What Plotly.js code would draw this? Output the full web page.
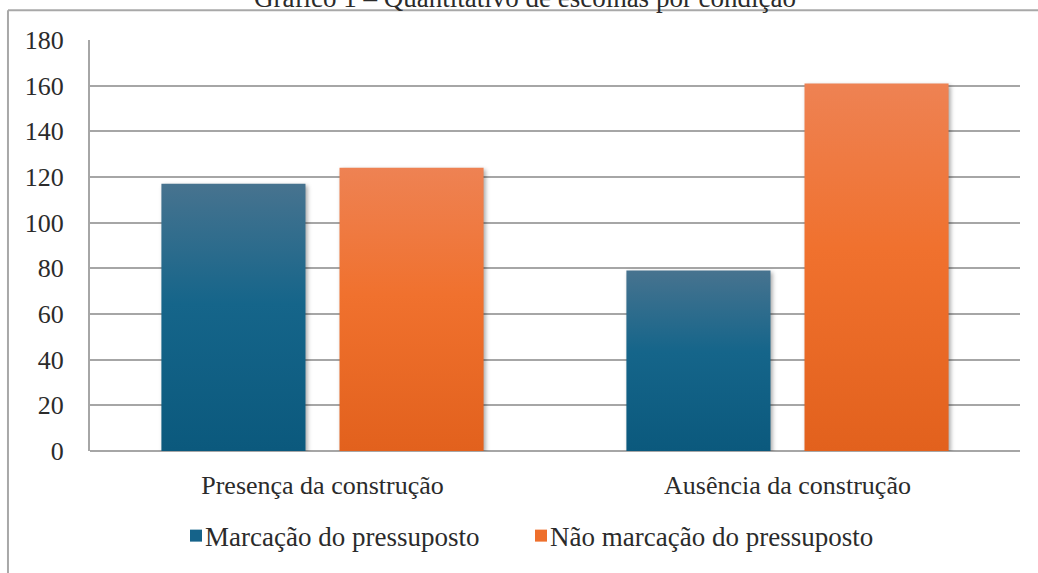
<!DOCTYPE html>
<html>
<head>
<meta charset="utf-8">
<script src="https://cdn.plot.ly/plotly-3.0.1.min.js"></script>
<style>
  html, body { margin: 0; padding: 0; background: #ffffff; }
  #chart { width: 1038px; height: 573px; }
</style>
</head>
<body>
<div id="chart"></div>
<script>
// ---- data ----
const categories = ["Presença da construção", "Ausência da construção"];
const seriesNames = ["Marcação do pressuposto", "Não marcação do pressuposto"];
const marcacao = [117, 79];
const naoMarcacao = [124, 161];
const yTicks = [0, 20, 40, 60, 80, 100, 120, 140, 160, 180];
const chartTitle = "Gráfico 1 – Quantitativo de escolhas por condição";

const FONT = "Liberation Serif";
const TEXT = "#2b2b2b";
const GRID = "#a6a6a6";

const traces = [
  { type: "bar", name: seriesNames[0], x: categories, y: marcacao,
    marker: { color: "#15638a", line: { width: 0 } }, hoverinfo: "skip" },
  { type: "bar", name: seriesNames[1], x: categories, y: naoMarcacao,
    marker: { color: "#ee6f2c", line: { width: 0 } }, hoverinfo: "skip" }
];

const layout = {
  width: 1038, height: 573,
  margin: { l: 90, r: 18, t: 40, b: 118, pad: 0 },
  paper_bgcolor: "#ffffff", plot_bgcolor: "#ffffff",
  font: { family: FONT, size: 24, color: TEXT },
  barmode: "group", bargap: 0.234, bargroupgap: 0.191,
  showlegend: true,
  legend: { orientation: "h", x: 0.0925, xanchor: "left", y: -0.207, yanchor: "middle",
            font: { family: FONT, size: 27, color: TEXT }, traceorder: "normal",
            itemwidth: 30, entrywidth: 300, entrywidthmode: "pixels",
            bgcolor: "rgba(0,0,0,0)", borderwidth: 0 },
  xaxis: { type: "category", showgrid: false, zeroline: false,
           showline: false, ticks: "", ticklabelstandoff: 16,
           tickfont: { family: FONT, size: 26, color: TEXT }, fixedrange: true },
  yaxis: { range: [0, 180], tickvals: yTicks, ticktext: yTicks.map(String),
           showgrid: true, gridcolor: GRID, gridwidth: 2,
           zeroline: false, showline: true, linecolor: GRID, linewidth: 2,
           ticks: "", ticklabelstandoff: 19,
           tickfont: { family: FONT, size: 26, color: TEXT }, fixedrange: true },
  shapes: [
    { type: "line", xref: "paper", yref: "paper", x0: 0, x1: 1, y0: 0, y1: 0,
      line: { color: GRID, width: 2 }, layer: "below" },
    { type: "line", xref: "paper", yref: "paper", x0: -0.0882, x1: 1.03, y0: 1.0723, y1: 1.0723,
      line: { color: "#a8a8a8", width: 2 } },
    { type: "line", xref: "paper", yref: "paper", x0: -0.0882, x1: -0.0882, y0: 1.0723, y1: -0.3,
      line: { color: "#a8a8a8", width: 2 } }
  ],
  annotations: [
    { text: chartTitle, xref: "paper", yref: "paper", x: 0.468, y: 1.060,
      xanchor: "center", yanchor: "bottom", showarrow: false,
      font: { family: FONT, size: 27, color: TEXT } }
  ]
};

Plotly.newPlot("chart", traces, layout, { staticPlot: true, displayModeBar: false }).then(function (gd) {
  const svg = gd.querySelector(".main-svg");
  const ns = "http://www.w3.org/2000/svg";
  const defs = document.createElementNS(ns, "defs");
  function grad(id, stops) {
    const g = document.createElementNS(ns, "linearGradient");
    g.setAttribute("id", id);
    g.setAttribute("x1", "0"); g.setAttribute("y1", "0");
    g.setAttribute("x2", "0"); g.setAttribute("y2", "1");
    stops.forEach(function (s) {
      const st = document.createElementNS(ns, "stop");
      st.setAttribute("offset", s[0]);
      st.setAttribute("stop-color", s[1]);
      g.appendChild(st);
    });
    defs.appendChild(g);
  }
  grad("gBlue", [["0", "#47738f"], ["0.45", "#15658a"], ["1", "#0b597d"]]);
  grad("gOrange", [["0", "#ee8253"], ["0.45", "#f0712e"], ["1", "#e2611d"]]);
  svg.insertBefore(defs, svg.firstChild);
  const ids = ["gBlue", "gOrange"];
  gd.querySelectorAll(".barlayer .trace").forEach(function (tr, i) {
    tr.querySelectorAll(".point path").forEach(function (p) {
      p.style.fill = "url(#" + ids[i] + ")";
      p.style.filter = "drop-shadow(2px 2px 2px rgba(0,0,0,0.35))";
    });
  });
  // tighten the gap between legend swatch and its label, as in the reference
  gd.querySelectorAll(".legend .legendtext").forEach(function (t) {
    t.setAttribute("x", "29");
  });
  // let the last legend label run past the fixed entry width without clipping
  gd.querySelectorAll(".legend [clip-path]").forEach(function (el) {
    el.removeAttribute("clip-path");
  });
});
</script>
</body>
</html>
